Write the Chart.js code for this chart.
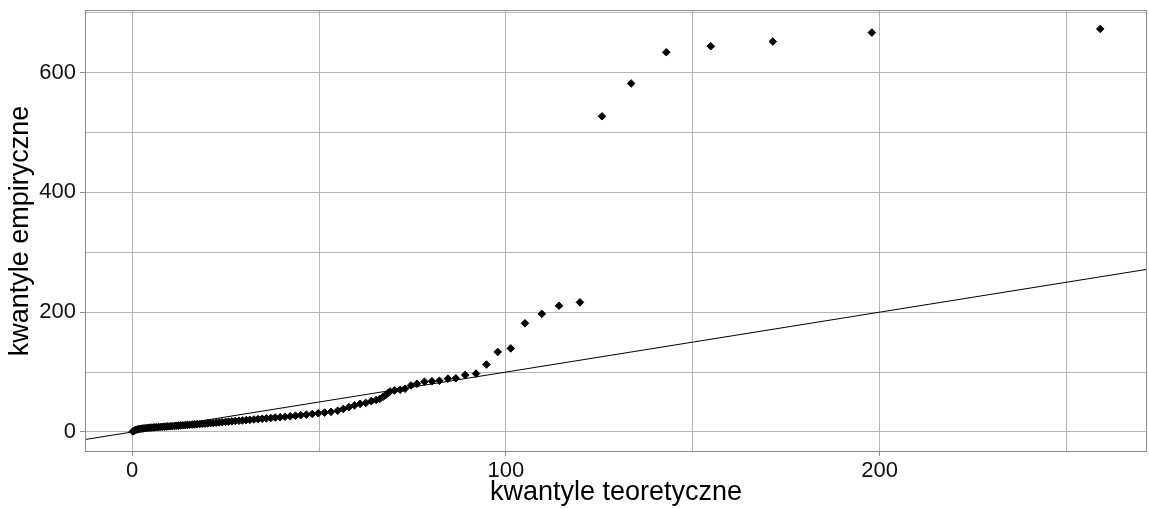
<!DOCTYPE html>
<html>
<head>
<meta charset="utf-8">
<script src="https://cdn.jsdelivr.net/npm/chart.js@4/dist/chart.umd.min.js"></script>
<style>
  html, body { margin: 0; padding: 0; background: #ffffff; }
  canvas { display: block; }
</style>
</head>
<body>
<canvas id="c" width="1149" height="509"></canvas>
<script>
// ---- data ----
const theoretical = [
  0.2, 0.6, 1.0, 1.4, 1.8, 2.2, 2.6, 3.0, 3.4, 3.9,
  4.3, 4.8, 5.2, 5.7, 6.1, 6.6, 7.1, 7.6, 8.1, 8.6,
  9.1, 9.6, 10.2, 10.7, 11.3, 11.8, 12.4, 13.0, 13.6, 14.2,
  14.8, 15.4, 16.1, 16.7, 17.4, 18.1, 18.8, 19.5, 20.2, 21.0,
  21.7, 22.5, 23.3, 24.1, 25.0, 25.8, 26.7, 27.6, 28.6, 29.5,
  30.5, 31.5, 32.6, 33.7, 34.8, 35.9, 37.1, 38.3, 39.6, 40.9,
  42.3, 43.7, 45.1, 46.6, 48.2, 49.8, 51.5, 53.2, 55.0, 56.5,
  58.0, 59.5, 61.0, 62.5, 64.0, 65.3, 66.3, 67.2, 67.9, 68.5,
  69.0, 70.2, 71.7, 73.0, 74.6, 76.2, 78.2, 80.2, 82.2, 84.5,
  86.6, 89.1, 92.0, 94.8, 97.8, 101.3, 105.1, 109.6, 114.2, 119.8,
  125.7, 133.5, 142.9, 154.8, 171.4, 197.9, 259.0
];
const empirical = [
  1.0, 2.5, 3.5, 4.2, 4.8, 5.3, 5.7, 6.0, 6.3, 6.6,
  6.9, 7.2, 7.4, 7.6, 7.8, 8.0, 8.2, 8.4, 8.7, 8.9,
  9.1, 9.3, 9.6, 9.8, 10.1, 10.3, 10.6, 10.9, 11.2, 11.5,
  11.8, 12.1, 12.4, 12.7, 13.0, 13.3, 13.7, 14.0, 14.4, 14.8,
  15.1, 15.6, 16.0, 16.4, 16.9, 17.3, 17.8, 18.3, 18.8, 19.3,
  19.8, 20.3, 20.9, 21.5, 22.1, 22.7, 23.3, 24.0, 24.6, 25.4,
  26.2, 27.1, 28.0, 29.0, 30.1, 31.2, 32.4, 33.6, 35.5, 38.5,
  41.5, 44.5, 47.0, 48.5, 51.5, 53.5, 55.4, 59.0, 62.1, 65.0,
  67.7, 69.4, 70.5, 72.2, 77.7, 80.5, 83.8, 84.6, 85.5, 89.0,
  89.6, 95.2, 97.5, 112.6, 133.6, 139.5, 181.4, 197.2, 210.7, 216.4,
  527.0, 581.7, 633.9, 644.0, 651.7, 666.7, 672.8
];
// reference line y = intercept + slope * x
const refIntercept = 0;
const refSlope = 1;
// axis limits and tick labels
const xLimits = [-12.6, 271.5];
const yLimits = [-33.4, 704.4];
const xMajorTicks = [0, 100, 200];
const yMajorTicks = [0, 200, 400, 600];
const xTitle = 'kwantyle teoretyczne';
const yTitle = 'kwantyle empiryczne';

// ---- build ----
const points = theoretical.map((x, i) => ({ x: x, y: empirical[i] }));
const refLine = xLimits.map(x => ({ x: x, y: refIntercept + refSlope * x }));

const GRID = '#b6b6b6';
const BORDER = '#8e8e8e';
const FONT = "'Liberation Sans', Arial, sans-serif";

const panelBorder = {
  id: 'panelBorder',
  afterDatasetsDraw(chart) {
    const a = chart.chartArea;
    const ctx = chart.ctx;
    ctx.save();
    ctx.strokeStyle = BORDER;
    ctx.lineWidth = 1;
    ctx.strokeRect(a.left + 0.5, a.top + 0.5, a.right - a.left - 1, a.bottom - a.top - 1);
    ctx.restore();
  }
};

function noPad(scale) {
  scale.paddingTop = 0;
  scale.paddingBottom = 0;
  scale.paddingLeft = 0;
  scale.paddingRight = 0;
}

new Chart(document.getElementById('c'), {
  type: 'scatter',
  data: {
    datasets: [
      {
        label: 'qq',
        data: points,
        order: 1,
        pointStyle: 'rectRot',
        pointRadius: 3.8,
        pointBackgroundColor: '#000000',
        pointBorderColor: '#000000',
        pointBorderWidth: 1,
        pointHoverRadius: 3.8
      },
      {
        type: 'line',
        label: 'ref',
        data: refLine,
        order: 0,
        borderColor: '#000000',
        borderWidth: 1,
        pointRadius: 0,
        fill: false
      }
    ]
  },
  options: {
    responsive: false,
    animation: false,
    devicePixelRatio: 1,
    layout: { autoPadding: false, padding: { top: 10, right: 2, left: 0, bottom: 0 } },
    plugins: {
      legend: { display: false },
      tooltip: { enabled: false }
    },
    scales: {
      x: {
        type: 'linear',
        min: xLimits[0],
        max: xLimits[1],
        afterFit(scale) { scale.height = 57; noPad(scale); },
        border: { display: false },
        grid: {
          color: GRID,
          lineWidth: 1,
          tickLength: 4,
          tickColor: (ctx) => (ctx.tick && xMajorTicks.includes(ctx.tick.value)) ? BORDER : 'rgba(0,0,0,0)'
        },
        ticks: {
          stepSize: 50,
          includeBounds: false,
          autoSkip: false,
          maxRotation: 0,
          padding: 2,
          color: '#111111',
          font: { family: FONT, size: 22 },
          callback: (v) => xMajorTicks.includes(v) ? String(v) : ''
        },
        title: {
          display: true,
          text: xTitle,
          color: '#000000',
          font: { family: FONT, size: 27 },
          padding: { top: 0, bottom: 0 }
        }
      },
      y: {
        type: 'linear',
        min: yLimits[0],
        max: yLimits[1],
        afterFit(scale) { scale.width = 85; noPad(scale); },
        border: { display: false },
        grid: {
          color: GRID,
          lineWidth: 1,
          tickLength: 5,
          tickColor: (ctx) => (ctx.tick && yMajorTicks.includes(ctx.tick.value)) ? BORDER : 'rgba(0,0,0,0)'
        },
        ticks: {
          stepSize: 100,
          includeBounds: false,
          autoSkip: false,
          padding: 4,
          color: '#111111',
          font: { family: FONT, size: 22 },
          callback: (v) => yMajorTicks.includes(v) ? String(v) : ''
        },
        title: {
          display: true,
          text: yTitle,
          color: '#000000',
          font: { family: FONT, size: 27 },
          padding: { top: 4, bottom: 0 }
        }
      }
    }
  },
  plugins: [panelBorder]
});
</script>
</body>
</html>
